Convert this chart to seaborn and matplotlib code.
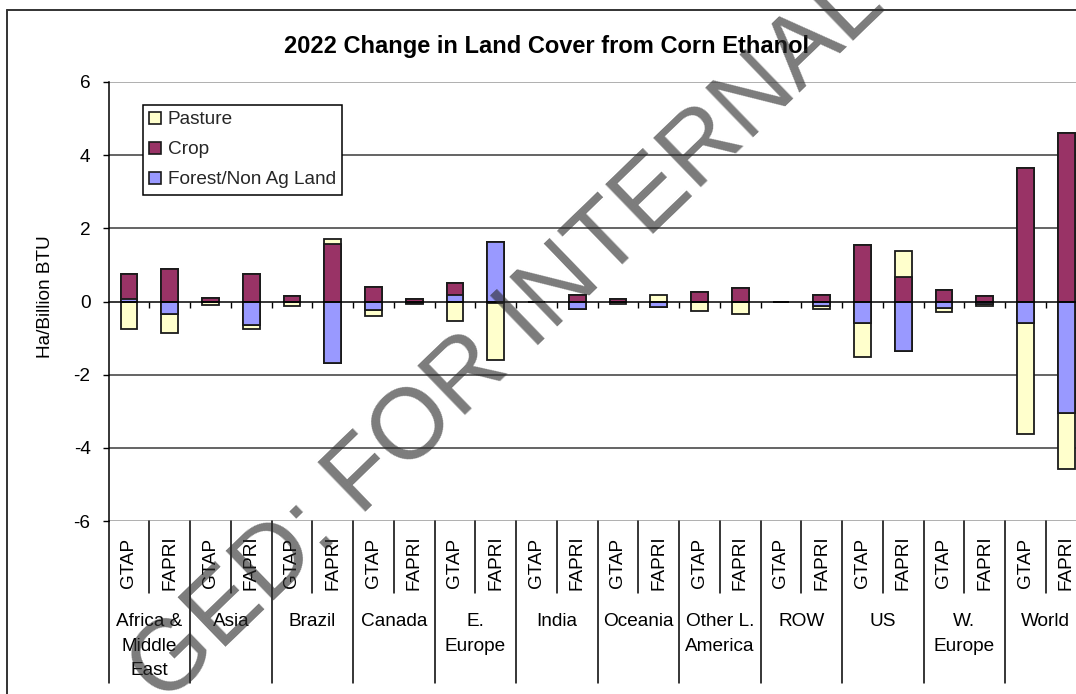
import numpy as np
import pandas as pd
import matplotlib
matplotlib.use("Agg")
import matplotlib.pyplot as plt
from matplotlib.patches import Patch
from matplotlib.lines import Line2D
import seaborn as sns

# ---------------- data ----------------
regions = ["Africa &\nMiddle\nEast", "Asia", "Brazil", "Canada", "E.\nEurope", "India",
           "Oceania", "Other L.\nAmerica", "ROW", "US", "W.\nEurope", "World"]
models = ["GTAP", "FAPRI"]

# values per (region, model) in order: region1 GTAP, region1 FAPRI, region2 GTAP, ...
pasture = [-0.74, -0.52, -0.09, -0.09, -0.13, 0.15, -0.15, -0.03, -0.53, -1.57, 0.00, 0.00,
           -0.08, 0.18, -0.26, -0.35, 0.00, -0.09, -0.93, 0.71, -0.11, -0.04, -3.03, -1.52]
crop = [0.67, 0.88, 0.10, 0.75, 0.14, 1.57, 0.41, 0.07, 0.33, -0.03, 0.00, 0.18,
        0.08, 0.00, 0.27, 0.36, 0.00, 0.18, 1.54, 0.66, 0.32, 0.14, 3.64, 4.60]
forest = [0.08, -0.35, 0.00, -0.65, 0.00, -1.69, -0.24, -0.05, 0.17, 1.63, 0.00, -0.21,
          0.00, -0.16, 0.00, 0.00, 0.00, -0.12, -0.60, -1.35, -0.19, -0.08, -0.60, -3.06]

series_names = ["Pasture", "Crop", "Forest/Non Ag Land"]
colors = {"Pasture": "#FFFFCC", "Crop": "#993366", "Forest/Non Ag Land": "#9999FF"}

# ---------------- build stacking table ----------------
slots = [f"{r.replace(chr(10), ' ')} {m}" for r in regions for m in models]
df = pd.DataFrame({"slot": slots, "Forest": forest, "Crop": crop, "Pasture": pasture})
stack_order = ["Forest", "Crop", "Pasture"]  # bottom-up (Excel series order)
pos_cum = np.zeros(len(df))
neg_cum = np.zeros(len(df))
for s in stack_order:
    v = df[s].to_numpy()
    pos_cum = pos_cum + np.clip(v, 0, None)
    neg_cum = neg_cum + np.clip(v, None, 0)
    df[s + "_pos"] = pos_cum
    df[s + "_neg"] = neg_cum

# ---------------- figure ----------------
sns.set_theme(style="white")
plt.rcParams["font.family"] = ["Liberation Sans", "DejaVu Sans"]

W, H = 1076, 694
fig = plt.figure(figsize=(W / 100, H / 100), dpi=100)
fig.patch.set_facecolor("white")

x_left, x_right = 108.6, 1086.6
y_top, y_bot = 82.0, 521.0
ax = fig.add_axes([x_left / W, 1 - y_bot / H, (x_right - x_left) / W, (y_bot - y_top) / H])
ax.set_facecolor("white")

name_map = {"Forest": "Forest/Non Ag Land", "Crop": "Crop", "Pasture": "Pasture"}
for side in ["pos", "neg"]:
    for s in reversed(stack_order):
        sns.barplot(data=df, x="slot", y=f"{s}_{side}", order=slots,
                    color=colors[name_map[s]], saturation=1, width=0.41,
                    edgecolor="#1a1a1a", linewidth=1.3, errorbar=None, ax=ax, zorder=3)

ax.set_ylim(-6, 6)
ax.set_xlim(-0.5, len(slots) - 0.5)
ax.set_xlabel("")
ax.set_ylabel("")

# gridlines
for yv in [-4, -2, 2, 4]:
    ax.axhline(yv, color="#3a3a3a", lw=1.1, zorder=1)
for yv in [-6, 6]:
    ax.axhline(yv, color="#9a9a9a", lw=1.1, zorder=1)

# spines
for sp in ["top", "right"]:
    ax.spines[sp].set_visible(False)
ax.spines["left"].set_color("black")
ax.spines["left"].set_linewidth(1.1)
ax.spines["bottom"].set_position(("data", 0))
ax.spines["bottom"].set_color("black")
ax.spines["bottom"].set_linewidth(1.1)
ax.spines["bottom"].set_zorder(4)

ax.set_yticks([-6, -4, -2, 0, 2, 4, 6])
ax.set_yticklabels(["-6", "-4", "-2", "0", "2", "4", "6"])
ax.tick_params(axis="y", direction="out", length=4, width=1, color="black",
               labelsize=13.7, pad=9, left=True, labelcolor="black")
ax.set_xticks(np.arange(len(slots) - 1) + 0.5)
ax.set_xticklabels([])
ax.tick_params(axis="x", direction="out", length=4.5, width=1, color="black",
               bottom=True)

# ---------------- category axis below plot ----------------
tr = ax.get_xaxis_transform()
short_y = -(593 - y_bot) / (y_bot - y_top)
long_y = -(683 - y_bot) / (y_bot - y_top)
lab_y = -(563 - y_bot) / (y_bot - y_top)
reg_y = -(613 - y_bot) / (y_bot - y_top)
for k in range(len(regions)):
    ax.plot([2 * k + 0.5, 2 * k + 0.5], [0, short_y], transform=tr, color="black",
            lw=1.1, clip_on=False)
    ax.plot([2 * k - 0.5, 2 * k - 0.5], [0, long_y], transform=tr, color="black",
            lw=1.1, clip_on=False)
    ax.text(2 * k + 0.5, reg_y, regions[k], transform=tr, ha="center", va="top",
            fontsize=13.7, linespacing=1.58, color="black")
    for j, m in enumerate(models):
        ax.text(2 * k + j, lab_y, m, transform=tr, rotation=90, ha="center",
                va="center", fontsize=13.7, color="black")
ax.plot([len(slots) - 0.5] * 2, [0, long_y], transform=tr, color="black", lw=1.1,
        clip_on=False)

# ---------------- titles ----------------
fig.text(546.5 / W, 1 - 53 / H, "2022 Change in Land Cover from Corn Ethanol",
         ha="center", va="baseline", fontsize=17, fontweight="bold", color="black")
fig.text(45 / W, 1 - 297 / H, "Ha/Billion BTU", rotation=90, ha="center",
         va="center", fontsize=13.7, color="black")

# ---------------- legend ----------------
handles = [Patch(facecolor=colors[n], edgecolor="#1a1a1a", linewidth=1.2) for n in series_names]
leg = fig.legend(handles, series_names, loc="upper left",
                 bbox_to_anchor=(143 / W, 1 - 105 / H), bbox_transform=fig.transFigure,
                 fontsize=13.7, frameon=True, fancybox=False, shadow=False,
                 handlelength=0.6, handleheight=0.6, handletextpad=0.35,
                 labelspacing=0.68, borderpad=0.34, borderaxespad=0)
leg.get_frame().set_edgecolor("black")
leg.get_frame().set_linewidth(1.1)
leg.get_frame().set_facecolor("white")
leg.get_frame().set_alpha(1)

# ---------------- chart-area border ----------------
fig.add_artist(Line2D([7 / W, 7 / W], [1 - 10 / H, 0], transform=fig.transFigure,
                      color="#333333", lw=1.4))
fig.add_artist(Line2D([7 / W, 1], [1 - 10 / H, 1 - 10 / H], transform=fig.transFigure,
                      color="#333333", lw=1.4))

# ---------------- watermark ----------------
fig.text(508 / W, 1 - 338 / H, "GED: FOR INTERNAL", rotation=44, rotation_mode="anchor",
         ha="center", va="center", fontsize=72, color="#2b2b2b", alpha=0.62, zorder=10)

fig.savefig("out.png", dpi=100)
